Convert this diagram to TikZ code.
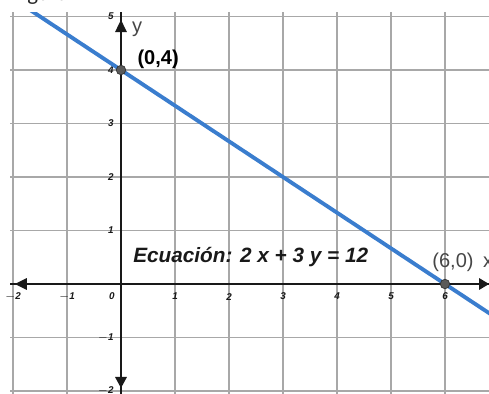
\documentclass[tikz,border=0pt]{standalone}
\usepackage{fontspec}
\setmainfont{Liberation Sans}
\newfontfamily\figfont{Carlito}
\definecolor{gridgray}{RGB}{168,168,168}
\definecolor{lineblue}{RGB}{58,125,206}
\definecolor{axisdark}{RGB}{25,25,25}
\definecolor{ptgray}{RGB}{90,90,90}
\definecolor{labgray}{RGB}{70,70,70}
\tikzset{
  gridline/.style={draw=gridgray, line width=1.1pt},
  axisline/.style={draw=axisdark, line width=0.8pt},
  arrowhead/.style={fill=axisdark},
  blueline/.style={draw=lineblue, line width=2.2pt},
  ptdot/.style={fill=ptgray, draw=black!80, line width=0.4pt},
  ticklab/.style={inner sep=0pt, font=\fontsize{5.6}{6}\selectfont\bfseries\itshape, text=axisdark},
  biglab/.style={inner sep=0pt, font=\fontsize{11.4}{13}\selectfont},
}
\begin{document}
\begin{tikzpicture}[x=1.08cm,y=1.07cm]
\useasboundingbox (-2.2407,-2.056) rectangle (6.8148,5.3084);
% cut-off text at the top
\node[anchor=base west, inner sep=0pt, font=\figfont\fontsize{13}{15}\selectfont, text=black!85] (fig) at (-2.03,5.29) {Figura};
\begin{scope}
\clip (-2.055,-2.06) rectangle (6.82,5.08);
% grid
\foreach \x in {-2,...,6} \draw[gridline] (\x,5.08) -- (\x,-2.1);
\foreach \y in {-2,...,5} \draw[gridline] (-2.055,\y) -- (6.9,\y);
% axes
\draw[axisline] (-2.055,0) -- (6.9,0);
\draw[axisline] (0,5.1) -- (0,-2.1);
\end{scope}
% arrowheads
\fill[arrowhead] (0,4.935) -- (-0.111,4.71) -- (0.111,4.71) -- cycle;
\fill[arrowhead] (0,-1.944) -- (-0.111,-1.738) -- (0.111,-1.738) -- cycle;
\fill[arrowhead] (-1.963,0) -- (-1.741,0.112) -- (-1.741,-0.112) -- cycle;
\fill[arrowhead] (6.815,0) -- (6.63,0.112) -- (6.63,-0.112) -- cycle;
% tick labels
\foreach \x/\t in {-2/{$-$2},-1/{$-$1},1/1,2/2,3/3,4/4,5/5,6/6}
  \node[ticklab] (tx\x) at (\x,-0.235) {\t};
\node[ticklab] (tx0) at (-0.167,-0.235) {0};
\foreach \y/\t in {5/5,4/4,3/3,2/2,1/1,-1/{$-$1},-2/{$-$2}}
  \node[ticklab, anchor=east] (ty\y) at (-0.13,\y) {\t};
% the line 2x + 3y = 12
\begin{scope}
\clip (-2.3,-2.1) rectangle (6.8148,5.084);
\draw[blueline] (-1.7,5.1333) -- (7.0,-0.6667);
\end{scope}
% points
\coordinate (p04) at (0,4);
\coordinate (p60) at (6,0);
\filldraw[ptdot] (p04) circle (0.095cm);
\filldraw[ptdot] (p60) circle (0.095cm);
% labels
\node[biglab, anchor=base west, font=\fontsize{11.4}{13}\selectfont\bfseries] (l04) at (0.30,4.11) {(0,4)};
\node[biglab, anchor=base west, text=labgray] (l60) at (5.76,0.30) {(6,0)};
\node[biglab, anchor=base west, text=labgray] (lx) at (6.70,0.30) {x};
\node[biglab, anchor=base west, text=labgray] (ly) at (0.20,4.71) {y};
\node[biglab, anchor=base west, font=\fontsize{11.8}{13}\selectfont\bfseries\itshape, text=black!90] (eq) at (0.222,0.41) {Ecuación: 2 x + 3 y = 12};
\end{tikzpicture}
\end{document}
